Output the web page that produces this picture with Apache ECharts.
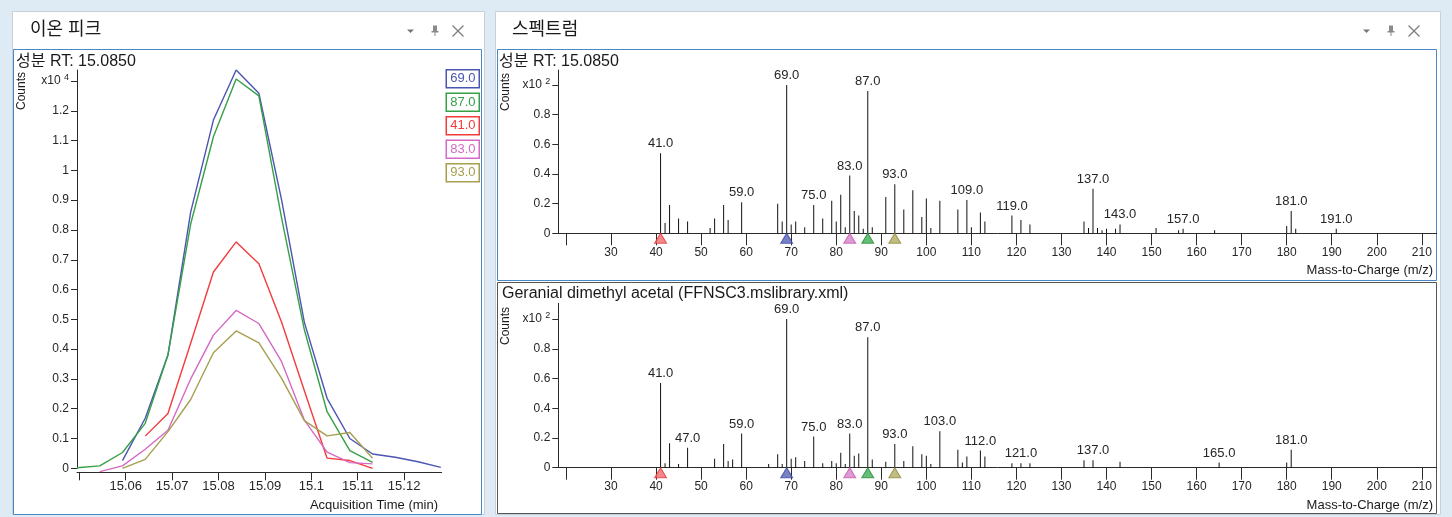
<!DOCTYPE html>
<html>
<head>
<meta charset="utf-8">
<script src="https://cdn.jsdelivr.net/npm/echarts@6/dist/echarts.min.js"></script>
<style>
  html, body { margin: 0; padding: 0; background: #deeaf4; }
  #main { width: 1452px; height: 517px; }
</style>
</head>
<body>
<div id="main"></div>
<script>
// ion peak chromatogram (x10^4 counts)
const times = [15.0495, 15.0544, 15.0593, 15.0642, 15.0691, 15.0740, 15.0789, 15.0838, 15.0887,
               15.0936, 15.0985, 15.1034, 15.1083, 15.1132, 15.1181, 15.1230, 15.1279];
const ion69 = [null, null, 0.026, 0.168, 0.38, 0.86, 1.169, 1.337, 1.259, 0.90, 0.49, 0.235, 0.10, 0.048, 0.037, 0.022, 0.003];
const ion87 = [0.002, 0.008, 0.053, 0.151, 0.38, 0.82, 1.113, 1.307, 1.25, 0.84, 0.465, 0.19, 0.059, 0.02, null, null, null];
const ion41 = [null, null, null, 0.108, 0.184, 0.42, 0.659, 0.76, 0.687, 0.49, 0.26, 0.034, 0.026, 0.0, null, null, null];
const ion83 = [null, -0.011, 0.008, 0.064, 0.128, 0.30, 0.447, 0.53, 0.486, 0.358, 0.162, 0.054, 0.019, 0.015, null, null, null];
const ion93 = [null, null, 0.0, 0.03, 0.123, 0.231, 0.388, 0.461, 0.421, 0.302, 0.16, 0.109, 0.12, 0.034, null, null, null];
const ionNames = ['69.0', '87.0', '41.0', '83.0', '93.0'];
const ionColors = ['#4b55b2', '#35a045', '#f43b3b', '#d46ac4', '#a59f4e'];

// measured spectrum (x10^2 counts)
const specMz = [41, 42, 43, 45, 47, 52, 53, 55, 56, 59, 67, 68, 69, 70, 71, 73, 75, 77, 79, 80, 81, 82, 83, 84, 85, 86, 87, 88,
                91, 93, 95, 97, 99, 100, 101, 103, 107, 109, 110, 112, 113, 119, 121, 123, 135, 136, 137, 138, 139, 140, 142,
                143, 151, 156, 157, 164, 180, 181, 182, 191];
const specVal = [0.54, 0.07, 0.19, 0.10, 0.08, 0.035, 0.10, 0.19, 0.09, 0.21, 0.20, 0.08, 1.0, 0.06, 0.08, 0.04, 0.19, 0.10,
                 0.22, 0.08, 0.26, 0.04, 0.39, 0.15, 0.12, 0.03, 0.96, 0.04, 0.245, 0.33, 0.16, 0.29, 0.11, 0.235, 0.035, 0.22,
                 0.16, 0.225, 0.04, 0.14, 0.08, 0.12, 0.09, 0.06, 0.08, 0.035, 0.30, 0.035, 0.02, 0.03, 0.03, 0.06, 0.035,
                 0.02, 0.03, 0.02, 0.05, 0.15, 0.03, 0.03];
const specLabels = [41, 59, 69, 75, 83, 87, 93, 109, 119, 137, 143, 157, 181, 191];

// library spectrum (x10^2 counts)
const libMz = [41, 42, 43, 45, 47, 53, 55, 56, 57, 59, 65, 67, 68, 69, 70, 71, 73, 75, 77, 79, 80, 81, 82, 83, 84, 85, 87, 88,
               91, 93, 95, 97, 99, 100, 101, 103, 107, 108, 109, 112, 113, 119, 121, 123, 135, 137, 143, 165, 180, 181];
const libVal = [0.57, 0.03, 0.165, 0.025, 0.135, 0.06, 0.16, 0.045, 0.055, 0.23, 0.025, 0.09, 0.025, 1.0, 0.06, 0.07, 0.045,
                0.21, 0.03, 0.045, 0.03, 0.10, 0.025, 0.23, 0.08, 0.095, 0.877, 0.055, 0.04, 0.16, 0.045, 0.145, 0.09, 0.08,
                0.025, 0.245, 0.12, 0.035, 0.075, 0.115, 0.075, 0.03, 0.03, 0.03, 0.05, 0.05, 0.04, 0.035, 0.035, 0.12];
const libLabels = [41, 47, 59, 69, 75, 83, 87, 93, 103, 112, 121, 137, 165, 181];

// ion markers under the spectra
const markerMz = [41, 69, 83, 87, 93];
const markerFill = ['#f26a6a', '#5562b8', '#d77fc9', '#3fae52', '#b2ac62'];
const markerEdge = ['#e03a3a', '#3b46a0', '#c05ab0', '#2a8a3a', '#8e883e'];

const timeTicks = [15.05, 15.06, 15.07, 15.08, 15.09, 15.1, 15.11, 15.12];
const mzTicks = [20, 30, 40, 50, 60, 70, 80, 90, 100, 110, 120, 130, 140, 150, 160, 170, 180, 190, 200, 210];
const countTicks = [0, 0.1, 0.2, 0.3, 0.4, 0.5, 0.6, 0.7, 0.8, 0.9, 1.0, 1.1, 1.2, 1.3];
const specCountTicks = [0, 0.2, 0.4, 0.6, 0.8, 1.0];

const FONT = 'Liberation Sans, Noto Sans CJK KR, sans-serif';
const axisColor = '#2b2b2b';
const labelColor = '#262626';

const chart = echarts.init(document.getElementById('main'));

function expLabel(exp, topValue) {
    return v => Math.abs(v - topValue) < 1e-6 ? '{a|x10 }{b|' + exp + '}' : String(+v.toFixed(1));
}
const expRich = {
    a: { fontSize: 12, color: labelColor, fontFamily: FONT, lineHeight: 16 },
    b: { fontSize: 9, color: labelColor, fontFamily: FONT, verticalAlign: 'top' }
};

function valueY(gridIndex, max, ticks, exp, topValue) {
    return {
        type: 'value', gridIndex: gridIndex, min: 0, max: max,
        axisLine: { show: true, lineStyle: { color: axisColor, width: 1 } },
        axisTick: { show: true, length: 6, customValues: ticks, lineStyle: { color: axisColor } },
        axisLabel: { customValues: ticks, margin: 8, fontSize: 12, color: labelColor, fontFamily: FONT,
                     formatter: expLabel(exp, topValue), rich: expRich },
        splitLine: { show: false }
    };
}

function mzAxis(gridIndex) {
    return {
        type: 'value', gridIndex: gridIndex, min: 18.3, max: 213.3,
        axisLine: { show: true, onZero: false, lineStyle: { color: axisColor, width: 1 } },
        axisTick: { show: true, length: 12, customValues: mzTicks, lineStyle: { color: axisColor } },
        axisLabel: { customValues: mzTicks.slice(1), margin: 13, fontSize: 12, color: labelColor, fontFamily: FONT },
        splitLine: { show: false }
    };
}

function stickSeries(axisIndex, mz, vals, labelled) {
    return {
        type: 'bar', xAxisIndex: axisIndex, yAxisIndex: axisIndex, barWidth: 1,
        itemStyle: { color: '#111' },
        animation: false,
        data: mz.map((m, i) => ({
            value: [m, vals[i]],
            label: { show: labelled.includes(m) }
        })),
        label: {
            position: 'top', distance: 3, fontSize: 13, color: labelColor, fontFamily: FONT,
            formatter: p => p.value[0].toFixed(1)
        }
    };
}

function markerSeries(axisIndex) {
    return {
        type: 'scatter', xAxisIndex: axisIndex, yAxisIndex: axisIndex, clip: false, z: 5,
        symbol: 'triangle', symbolSize: [12, 10], symbolOffset: [0, 5],
        animation: false,
        data: markerMz.map((m, i) => ({
            value: [m, 0],
            itemStyle: { color: markerFill[i], borderColor: markerEdge[i], borderWidth: 1 }
        }))
    };
}

const ionData = [ion69, ion87, ion41, ion83, ion93];

function iconGroup(cx) {
    // dropdown, pin and close glyphs of a docking panel
    return [
        { type: 'polygon', shape: { points: [[cx - 4, 29.5], [cx + 3, 29.5], [cx - 0.5, 33]] }, style: { fill: '#777' } },
        { type: 'rect', shape: { x: cx + 22, y: 25.5, width: 4, height: 6 }, style: { fill: '#8a8a8a' } },
        { type: 'rect', shape: { x: cx + 20.5, y: 31, width: 7, height: 1.5 }, style: { fill: '#8a8a8a' } },
        { type: 'line', shape: { x1: cx + 24, y1: 32, x2: cx + 24, y2: 36 }, style: { stroke: '#8a8a8a', lineWidth: 1 } },
        { type: 'line', shape: { x1: cx + 41.5, y1: 25.5, x2: cx + 52.5, y2: 36.5 }, style: { stroke: '#7d7d7d', lineWidth: 1.2 } },
        { type: 'line', shape: { x1: cx + 52.5, y1: 25.5, x2: cx + 41.5, y2: 36.5 }, style: { stroke: '#7d7d7d', lineWidth: 1.2 } }
    ];
}

function label(x, y, text, size, opts) {
    opts = opts || {};
    return {
        type: 'text', x: x, y: y, z: 10, rotation: opts.rotation || 0,
        style: { text: text, fontSize: size, fontFamily: FONT, fill: '#1a1a1a',
                 align: opts.align || 'left', verticalAlign: 'middle' }
    };
}

const option = {
    animation: false,
    textStyle: { fontFamily: FONT },
    graphic: [
        { type: 'rect', z: -10, shape: { x: 12.5, y: 11.5, width: 472, height: 503 }, style: { fill: '#fff', stroke: '#c7d1d9' } },
        { type: 'rect', z: -10, shape: { x: 495.5, y: 11.5, width: 945, height: 503 }, style: { fill: '#fff', stroke: '#c7d1d9' } },
        { type: 'rect', z: -9, shape: { x: 13.5, y: 49.5, width: 468, height: 465 }, style: { fill: '#fff', stroke: '#4a87c7' } },
        { type: 'rect', z: -9, shape: { x: 497.5, y: 49.5, width: 939, height: 231 }, style: { fill: '#fff', stroke: '#4a87c7' } },
        { type: 'rect', z: -9, shape: { x: 497.5, y: 282.5, width: 939, height: 231 }, style: { fill: '#fff', stroke: '#555' } },
        ...iconGroup(411),
        ...iconGroup(1367),
        label(30, 30, '이온 피크', 18),
        label(512, 30, '스펙트럼', 18),
        label(16, 62, '성분 RT: 15.0850', 16),
        label(499, 62, '성분 RT: 15.0850', 16),
        label(502, 294, 'Geranial dimethyl acetal (FFNSC3.mslibrary.xml)', 16),
        label(22, 91, 'Counts', 12, { rotation: Math.PI / 2, align: 'center' }),
        label(505.5, 92, 'Counts', 12, { rotation: Math.PI / 2, align: 'center' }),
        label(506, 326, 'Counts', 12, { rotation: Math.PI / 2, align: 'center' }),
        label(438, 505.5, 'Acquisition Time (min)', 13, { align: 'right' }),
        label(1433, 270, 'Mass-to-Charge (m/z)', 13, { align: 'right' }),
        label(1433, 505, 'Mass-to-Charge (m/z)', 13, { align: 'right' })
    ],
    legend: {
        orient: 'vertical', right: 972, top: 69, padding: 0, itemGap: 4, itemWidth: 0, itemHeight: 0,
        selectedMode: false,
        data: ionNames.map((n, i) => ({
            name: n, icon: 'rect',
            textStyle: { color: ionColors[i], borderColor: ionColors[i] }
        })),
        textStyle: { fontSize: 13, fontFamily: FONT, borderWidth: 1.5, padding: [2, 5, 2, 4], lineHeight: 14, width: 24 }
    },
    grid: [
        { left: 77, top: 70, width: 364.7, height: 398.3 },
        { left: 558.3, top: 70, width: 878.4, height: 163.3 },
        { left: 558.3, top: 303.3, width: 878.4, height: 164.4 }
    ],
    xAxis: [
        {
            type: 'value', gridIndex: 0, min: 15.0495, max: 15.1281, offset: 4,
            axisLine: { show: true, onZero: false, lineStyle: { color: axisColor, width: 1 } },
            axisTick: { show: true, length: 8, customValues: timeTicks, lineStyle: { color: axisColor } },
            axisLabel: { customValues: timeTicks.slice(1), margin: 8, fontSize: 13, color: labelColor, fontFamily: FONT,
                         formatter: v => String(+v.toFixed(2)) },
            splitLine: { show: false }
        },
        mzAxis(1),
        mzAxis(2)
    ],
    yAxis: [
        valueY(0, 1.337, countTicks, 4, 1.3),
        valueY(1, 1.101, specCountTicks, 2, 1.0),
        valueY(2, 1.106, specCountTicks, 2, 1.0)
    ],
    series: [
        ...ionNames.map((n, k) => ({
            name: n, type: 'line', xAxisIndex: 0, yAxisIndex: 0, clip: false,
            showSymbol: false, symbol: 'none',
            lineStyle: { color: ionColors[k], width: 1.4 },
            itemStyle: { color: ionColors[k] },
            data: times.map((t, i) => [t, ionData[k][i]]).filter(d => d[1] !== null)
        })),
        stickSeries(1, specMz, specVal, specLabels),
        stickSeries(2, libMz, libVal, libLabels),
        markerSeries(1),
        markerSeries(2)
    ]
};

chart.setOption(option);
</script>
</body>
</html>
